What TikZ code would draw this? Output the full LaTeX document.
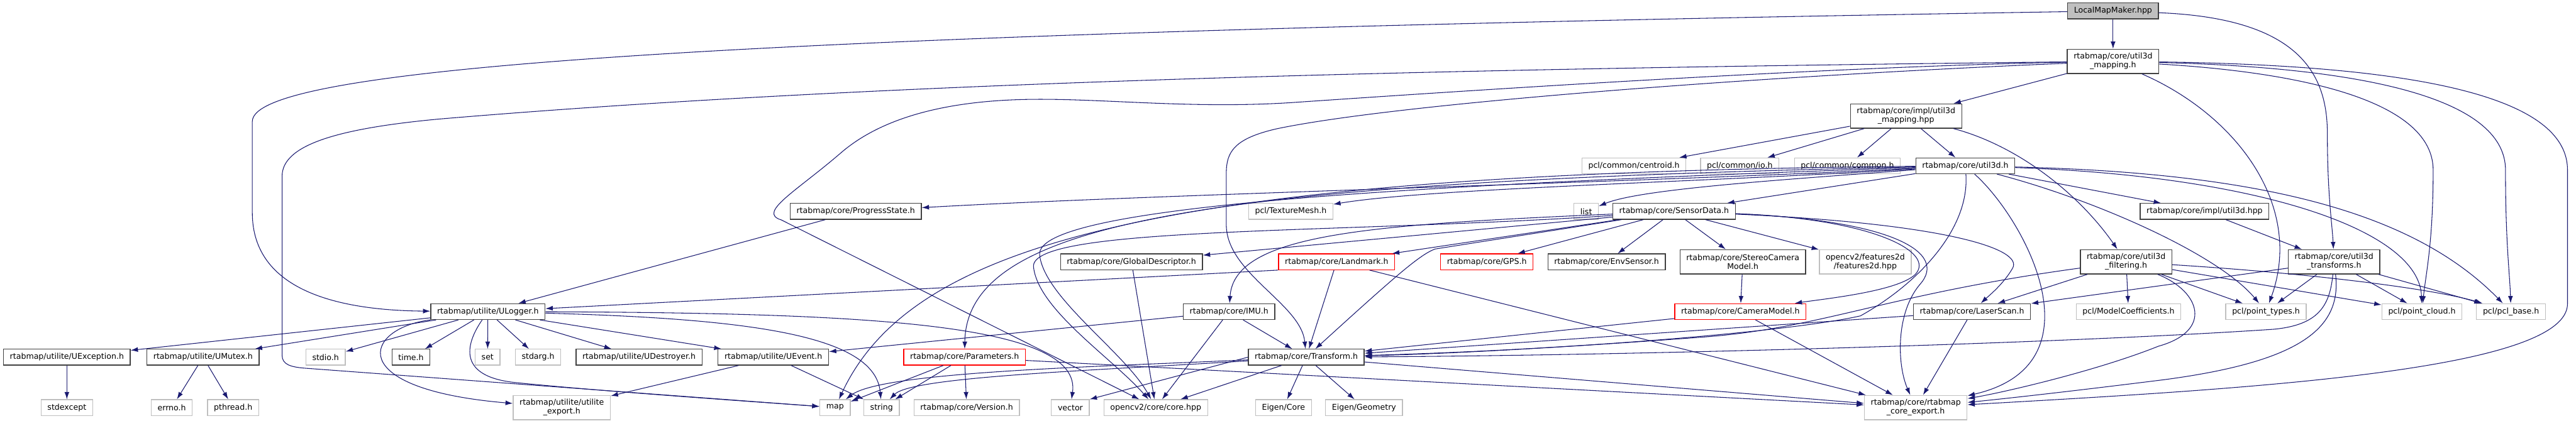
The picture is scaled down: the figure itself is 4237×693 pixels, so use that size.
\documentclass[tikz,border=0pt]{standalone}
\usepackage{fontspec}
\setmainfont{DejaVu Sans}
\usepackage{xcolor}
\definecolor{EdgeBlue}{HTML}{191970}
\definecolor{BoxLine}{HTML}{404040}
\definecolor{SysLine}{HTML}{BFBFBF}
\definecolor{CutLine}{HTML}{FF0000}
\definecolor{MainFill}{HTML}{BFBFBF}
\usepackage{tikz}
\usetikzlibrary{arrows.meta,positioning}

\begin{document}
\begin{tikzpicture}[x=1pt, y=-1pt, >={Latex[length=12pt,width=8pt]},
  hdr/.style={draw=BoxLine, fill=white, line width=1.3pt, inner xsep=10.5pt, inner ysep=2pt, minimum height=26pt, align=center, font=\fontsize{13}{14.5}\selectfont},
  sys/.style={hdr, draw=SysLine},
  cut/.style={hdr, draw=CutLine},
  main/.style={hdr, fill=MainFill},
  two/.style={minimum height=40pt},
  dep/.style={->, draw=EdgeBlue, line width=1.1pt}]
  \useasboundingbox (0,0) rectangle (4237,693);

  \node[main] (lm) at (3475.5,18) {LocalMapMaker.hpp};
  \node[hdr, two] (um) at (3475.5,101) {rtabmap/core/util3d\\\_mapping.h};
  \node[hdr, two] (umh) at (3135,191) {rtabmap/core/impl/util3d\\\_mapping.hpp};

  \node[sys] (centroid) at (2687.5,273) {pcl/common/centroid.h};
  \node[sys] (io) at (2861.5,273) {pcl/common/io.h};
  \node[sys] (common) at (3038.5,273) {pcl/common/common.h};
  \node[hdr] (u3d) at (3232.5,273) {rtabmap/core/util3d.h};

  \node[hdr] (progress) at (1407.5,348) {rtabmap/core/ProgressState.h};
  \node[sys] (texmesh) at (2123,348) {pcl/TextureMesh.h};
  \node[sys] (list) at (2609,348) {list};
  \node[hdr] (sensordata) at (2753.5,348) {rtabmap/core/SensorData.h};
  \node[hdr] (u3dhpp) at (3626,348) {rtabmap/core/impl/util3d.hpp};

  \node[hdr] (globaldesc) at (1861,431) {rtabmap/core/GlobalDescriptor.h};
  \node[cut] (landmark) at (2198.5,431) {rtabmap/core/Landmark.h};
  \node[cut] (gps) at (2445.5,431) {rtabmap/core/GPS.h};
  \node[hdr] (envsensor) at (2642.5,431) {rtabmap/core/EnvSensor.h};
  \node[hdr, two] (stereo) at (2866.5,431) {rtabmap/core/StereoCamera\\Model.h};
  \node[sys, two] (features) at (3068,431) {opencv2/features2d\\/features2d.hpp};
  \node[hdr, two] (filtering) at (3497,431) {rtabmap/core/util3d\\\_filtering.h};
  \node[hdr, two] (u3dt) at (3839,431) {rtabmap/core/util3d\\\_transforms.h};

  \node[hdr] (ulogger) at (802.5,513) {rtabmap/utilite/ULogger.h};
  \node[hdr] (imu) at (2021.5,513) {rtabmap/core/IMU.h};
  \node[cut] (cammodel) at (2862.5,513) {rtabmap/core/CameraModel.h};
  \node[hdr] (laserscan) at (3243.5,513) {rtabmap/core/LaserScan.h};
  \node[sys] (modelcoef) at (3501,513) {pcl/ModelCoefficients.h};
  \node[sys] (pointtypes) at (3727,513) {pcl/point\_types.h};
  \node[sys] (pointcloud) at (3983.5,513) {pcl/point\_cloud.h};
  \node[sys] (pclbase) at (4130,513) {pcl/pcl\_base.h};

  \node[hdr] (uexception) at (110,588) {rtabmap/utilite/UException.h};
  \node[hdr] (umutex) at (334,588) {rtabmap/utilite/UMutex.h};
  \node[sys] (stdio) at (535.5,588) {stdio.h};
  \node[hdr] (timeh) at (676,588) {time.h};
  \node[sys] (seth) at (802,588) {set};
  \node[sys] (stdarg) at (885,588) {stdarg.h};
  \node[hdr] (udestroyer) at (1051,588) {rtabmap/utilite/UDestroyer.h};
  \node[hdr] (uevent) at (1272,588) {rtabmap/utilite/UEvent.h};
  \node[cut] (params) at (1586.5,588) {rtabmap/core/Parameters.h};
  \node[hdr] (transform) at (2148.5,588) {rtabmap/core/Transform.h};

  \node[sys] (stdexcept) at (110,671) {stdexcept};
  \node[sys] (errnoh) at (282.5,671) {errno.h};
  \node[sys] (pthread) at (383.5,671) {pthread.h};
  \node[sys, two] (uexport) at (924,671) {rtabmap/utilite/utilite\\\_export.h};
  \node[sys] (maph) at (1373.5,671) {map};
  \node[sys] (stringh) at (1450,671) {string};
  \node[sys] (version) at (1590,671) {rtabmap/core/Version.h};
  \node[sys] (vector) at (1760.5,671) {vector};
  \node[sys] (cvcore) at (1901,671) {opencv2/core/core.hpp};
  \node[sys] (eigencore) at (2111,671) {Eigen/Core};
  \node[sys] (eigengeo) at (2243.5,671) {Eigen/Geometry};
  \node[sys, two] (coreexp) at (3151,671) {rtabmap/core/rtabmap\\\_core\_export.h};

  \draw[dep] (lm) .. controls (1200,55) and (415,110) .. (415,200) -- (415,350) .. controls (415,480) and (560,511) .. (ulogger);
  \draw[dep] (lm) -- (um);
  \draw[dep] (lm) .. controls (3780,30) and (3828,120) .. (3828,220) .. controls (3828,320) and (3836,370) .. (u3dt);

  \draw[dep] (um) -- (umh);
  \draw[dep] (um) .. controls (2500,112) and (1500,130) .. (722,196) .. controls (550,212) and (464,240) .. (464,290) -- (464,585) .. controls (464,600) and (478,604) .. (500,606) -- (maph);
  \draw[dep] (um) .. controls (3000,110) and (2400,150) .. (2123,169) .. controls (1950,180) and (1800,160) .. (1676,164) .. controls (1550,168) and (1450,195) .. (1385,250) .. controls (1310,315) and (1245,350) .. (1285,362) -- (cvcore);
  \draw[dep] (um) .. controls (2900,125) and (2300,170) .. (2100,212) .. controls (2030,228) and (2017,250) .. (2017,285) -- (2017,370) .. controls (2017,450) and (2140,500) .. (transform);
  \draw[dep] (um) .. controls (3680,190) and (3790,340) .. (pointtypes);
  \draw[dep] (um) .. controls (3800,120) and (4002,170) .. (4002,280) .. controls (4002,400) and (3990,450) .. (pointcloud);
  \draw[dep] (um) .. controls (3920,112) and (4121,170) .. (4121,280) .. controls (4121,400) and (4128,450) .. (pclbase);
  \draw[dep] (um) .. controls (4020,108) and (4223,170) .. (4223,280) -- (4223,500) .. controls (4223,610) and (3700,640) .. (coreexp);

  \draw[dep] (umh) -- (centroid); \draw[dep] (umh) -- (io); \draw[dep] (umh) -- (common); \draw[dep] (umh) -- (u3d);
  \draw[dep] (umh) .. controls (3320,240) and (3420,320) .. (filtering);

  \draw[dep] (u3d) .. controls (2700,300) and (1900,320) .. (progress);
  \draw[dep] (u3d) .. controls (2800,300) and (2350,310) .. (texmesh);
  \draw[dep] (u3d) .. controls (2950,295) and (2700,310) .. (list);
  \draw[dep] (u3d) -- (sensordata);
  \draw[dep] (u3d) .. controls (2000,300) and (1590,360) .. (params);
  \draw[dep] (u3d) .. controls (1900,285) and (1500,400) .. (maph);
  \draw[dep] (u3d) .. controls (2300,305) and (1700,340) .. (1710,420) .. controls (1718,490) and (1850,580) .. (cvcore);
  \draw[dep] (u3d) .. controls (3240,380) and (3150,470) .. (3060,520) .. controls (2950,545) and (2600,575) .. (transform);
  \draw[dep] (u3d) .. controls (3330,360) and (3460,600) .. (coreexp);
  \draw[dep] (u3d) -- (u3dhpp);
  \draw[dep] (u3d) .. controls (3450,330) and (3650,420) .. (pointtypes);
  \draw[dep] (u3d) .. controls (3720,290) and (3980,380) .. (pointcloud);
  \draw[dep] (u3d) .. controls (3750,285) and (3980,360) .. (pclbase);

  \draw[dep] (sensordata) -- (globaldesc); \draw[dep] (sensordata) -- (landmark); \draw[dep] (sensordata) -- (gps);
  \draw[dep] (sensordata) -- (envsensor); \draw[dep] (sensordata) -- (stereo); \draw[dep] (sensordata) -- (features);
  \draw[dep] (sensordata) .. controls (2250,370) and (2030,385) .. (imu);
  \draw[dep] (sensordata) -- (2360,410) .. controls (2335,420) and (2300,450) .. (transform);
  \draw[dep] (sensordata) .. controls (3080,360) and (3185,415) .. (3150,452) .. controls (3120,480) and (3000,492) .. (cammodel);
  \draw[dep] (sensordata) .. controls (3200,368) and (3330,410) .. (3310,442) .. controls (3295,468) and (3270,488) .. (laserscan);
  \draw[dep] (sensordata) .. controls (3110,362) and (3205,415) .. (3158,468) .. controls (3118,515) and (3120,600) .. (coreexp);
  \draw[dep] (sensordata) .. controls (2200,385) and (1690,372) .. (1700,440) .. controls (1708,510) and (1830,590) .. (cvcore);

  \draw[dep] (stereo) -- (cammodel);
  \draw[dep] (cammodel) -- (transform); \draw[dep] (cammodel) -- (coreexp);
  \draw[dep] (laserscan) -- (transform); \draw[dep] (laserscan) -- (coreexp);

  \draw[dep] (filtering) -- (laserscan); \draw[dep] (filtering) -- (modelcoef);
  \draw[dep] (filtering) -- (pointtypes); \draw[dep] (filtering) -- (pointcloud);
  \draw[dep] (filtering) .. controls (3800,450) and (4000,475) .. (pclbase);
  \draw[dep] (filtering) .. controls (3620,480) and (3640,545) .. (3550,570) .. controls (3450,610) and (3300,645) .. (coreexp);
  \draw[dep] (filtering) .. controls (3100,485) and (3000,540) .. (2800,555) .. controls (2600,570) and (2400,582) .. (transform);

  \draw[dep] (u3dhpp) -- (u3dt);
  \draw[dep] (u3dt) -- (laserscan); \draw[dep] (u3dt) -- (pointtypes);
  \draw[dep] (u3dt) -- (pointcloud); \draw[dep] (u3dt) -- (pclbase);
  \draw[dep] (u3dt) .. controls (3832,505) and (3812,535) .. (3740,542) .. controls (3400,565) and (2700,585) .. (transform);
  \draw[dep] (u3dt) .. controls (3852,540) and (3785,595) .. (3560,625) .. controls (3400,645) and (3300,656) .. (coreexp);

  \draw[dep] (globaldesc) -- (cvcore);
  \draw[dep] (imu) -- (transform); \draw[dep] (imu) -- (cvcore); \draw[dep] (imu) -- (uevent);
  \draw[dep] (landmark) -- (transform); \draw[dep] (landmark) -- (coreexp);
  \draw[dep] (landmark.south west) -- (ulogger);

  \draw[dep] (params) -- (maph); \draw[dep] (params) -- (stringh);
  \draw[dep] (params) -- (version); \draw[dep] (params) -- (coreexp);

  \draw[dep] (transform) -- (eigencore); \draw[dep] (transform) -- (eigengeo);
  \draw[dep] (transform) -- (cvcore); \draw[dep] (transform.west) -- (vector.north east);
  \draw[dep] (transform) .. controls (1800,610) and (1500,620) .. (stringh);
  \draw[dep] (transform) .. controls (1800,604) and (1450,612) .. (maph);
  \draw[dep] (transform) -- (coreexp);

  \draw[dep] (progress) -- (ulogger);
  \draw[dep] (uevent) -- (uexport); \draw[dep] (uevent) -- (stringh);

  \draw[dep] (ulogger) -- (uexception); \draw[dep] (ulogger) -- (umutex);
  \draw[dep] (ulogger) -- (stdio); \draw[dep] (ulogger) -- (timeh);
  \draw[dep] (ulogger) -- (seth); \draw[dep] (ulogger) -- (stdarg);
  \draw[dep] (ulogger) -- (udestroyer); \draw[dep] (ulogger) -- (uevent);
  \draw[dep] (ulogger.south west) .. controls (600,540) and (560,640) .. (uexport);
  \draw[dep] (ulogger) .. controls (770,560) and (745,620) .. (850,630) .. controls (1000,645) and (1250,662) .. (maph);
  \draw[dep] (ulogger) .. controls (1250,525) and (1440,555) .. (stringh);
  \draw[dep] (ulogger) .. controls (1450,515) and (1780,535) .. (vector);

  \draw[dep] (uexception) -- (stdexcept);
  \draw[dep] (umutex) -- (errnoh); \draw[dep] (umutex) -- (pthread);
\end{tikzpicture}
\end{document}
